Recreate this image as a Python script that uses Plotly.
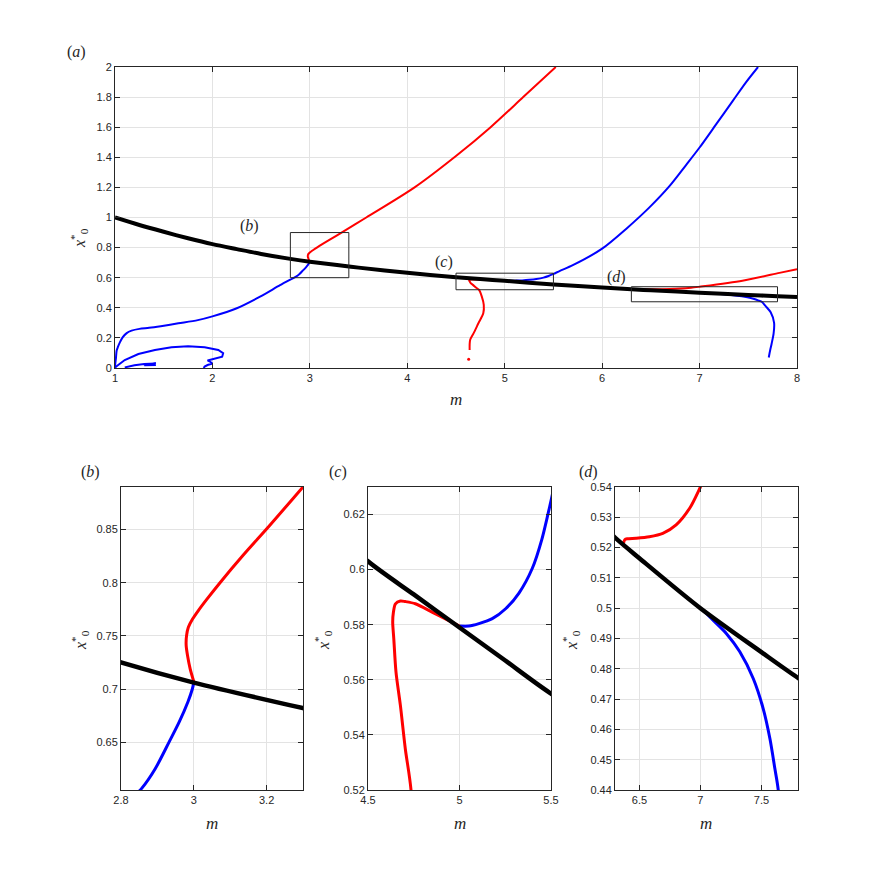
import plotly.graph_objects as go

PAGE_W, PAGE_H = 881, 887
OFF = 8  # default body margin of the html page
W, H = PAGE_W - 2 * OFF, PAGE_H - 2 * OFF

# ---------------- data ----------------
black_m = [1.0, 1.25, 1.5, 1.75, 2.0, 2.25, 2.5, 2.8, 3.0, 3.3, 3.5, 4.0, 4.5, 4.75, 5.0,
           5.25, 5.5, 6.0, 6.3, 6.5, 7.0, 7.5, 7.8, 8.0]
black_x = [1.0, 0.95, 0.905, 0.862, 0.823, 0.79, 0.758, 0.725, 0.706, 0.682, 0.667, 0.633,
           0.603, 0.591, 0.579, 0.567, 0.555, 0.535, 0.5233, 0.5165, 0.500, 0.4855, 0.477, 0.472]

red1_m = [3.0, 2.99, 2.983, 2.979, 2.980, 2.985, 2.997, 3.013, 3.035, 3.072, 3.136, 3.209,
          3.3, 3.579, 4.075, 4.503, 4.855, 5.19, 5.524]
red1_x = [0.707, 0.719, 0.731, 0.741, 0.750, 0.758, 0.766, 0.774, 0.784, 0.800, 0.826, 0.854,
          0.89, 1.0, 1.2, 1.41, 1.6, 1.8, 2.0]

red2_m = [5.0, 4.942, 4.85, 4.759, 4.704, 4.677, 4.65, 4.639, 4.635, 4.641, 4.653, 4.677,
          4.704, 4.735, 4.765, 4.785, 4.78, 4.73, 4.68, 4.645, 4.64]
red2_x = [0.5795, 0.5815, 0.5846, 0.5876, 0.5884, 0.5886, 0.5876, 0.5846, 0.581, 0.5749,
          0.5628, 0.5507, 0.5349, 0.52, 0.474, 0.419, 0.363, 0.297, 0.23, 0.186, 0.12]
red2_dot_m = [4.63]
red2_dot_x = [0.058]

red3_m = [6.37, 6.38, 6.40, 6.473, 6.582, 6.692, 6.801, 6.912, 7.0, 7.44, 7.82, 8.0]
red3_x = [0.5215, 0.5226, 0.5229, 0.5231, 0.5236, 0.5247, 0.5275, 0.533, 0.54, 0.58, 0.632, 0.657]

blue1_m = [1.0, 1.003, 1.01, 1.017, 1.03, 1.05, 1.08, 1.12, 1.17, 1.25, 1.35, 1.47, 1.65,
           1.85, 2.0, 2.25, 2.489, 2.694, 2.8, 2.858, 2.894, 2.932, 2.96, 2.984, 2.996, 3.0]
blue1_x = [0.0, 0.03, 0.068, 0.116, 0.14, 0.17, 0.205, 0.232, 0.248, 0.26, 0.267, 0.278, 0.297,
           0.318, 0.343, 0.397, 0.474, 0.55, 0.587, 0.607, 0.625, 0.65, 0.669, 0.688, 0.70, 0.706]

blue_loop_m = [1.0, 1.01, 1.10, 1.24, 1.41, 1.58, 1.75, 1.92, 2.06, 2.11, 2.10, 2.02, 1.95,
               1.98, 2.0, 1.95, 1.92, 1.91]
blue_loop_x = [0.0, 0.009, 0.053, 0.093, 0.12, 0.138, 0.144, 0.138, 0.12, 0.098, 0.075, 0.062,
               0.05, 0.04, 0.03, 0.02, 0.01, 0.0]

blue_small_m = [1.10, 1.2, 1.3, 1.42, 1.35, 1.30, 1.42]
blue_small_x = [0.004, 0.018, 0.026, 0.03, 0.024, 0.018, 0.02]

blue2_m = [5.0, 5.051, 5.106, 5.179, 5.252, 5.325, 5.398, 5.45, 5.5, 5.567, 5.699, 6.0, 6.249,
           6.488, 6.693, 6.863, 7.0, 7.171, 7.341, 7.478, 7.6]
blue2_x = [0.5795, 0.5795, 0.5804, 0.5822, 0.5858, 0.5915, 0.6005, 0.611, 0.625, 0.6455, 0.683,
           0.793, 0.926, 1.069, 1.21, 1.35, 1.465, 1.62, 1.775, 1.9, 2.0]

blue3_m = [7.02, 7.09, 7.214, 7.323, 7.433, 7.515, 7.57, 7.611, 7.638, 7.68, 7.73, 7.765, 7.76,
           7.74, 7.725, 7.71]
blue3_x = [0.4995, 0.4966, 0.4916, 0.4856, 0.4768, 0.4668, 0.4569, 0.4469, 0.44, 0.41, 0.37,
           0.30, 0.23, 0.163, 0.12, 0.07]

# zoom windows (b), (c), (d)
box_b = [2.8, 3.4, 0.6, 0.9]
box_c = [4.5, 5.5, 0.52, 0.63]
box_d = [6.3, 7.8, 0.44, 0.54]

# ---------------- figure ----------------
fig = go.Figure()

def px2x(p):
    return (p - OFF) / W

def px2y(p):
    return 1 - (p - OFF) / H

panels = [
    ("a", "x", "y", (115, 797), (67, 368), [1, 8], [0, 2], [1, 2, 3, 4, 5, 6, 7, 8],
     [0, 0.2, 0.4, 0.6, 0.8, 1, 1.2, 1.4, 1.6, 1.8, 2], 4, 2),
    ("b", "x2", "y2", (121, 303), (487, 790), [2.8, 3.3], [0.605, 0.89], [2.8, 3, 3.2],
     [0.65, 0.7, 0.75, 0.8, 0.85], 4.5, 3),
    ("c", "x3", "y3", (368, 551), (487, 790), [4.5, 5.5], [0.52, 0.63], [4.5, 5, 5.5],
     [0.52, 0.54, 0.56, 0.58, 0.6, 0.62], 4.5, 3),
    ("d", "x4", "y4", (615, 798), (487, 790), [6.3, 7.8], [0.44, 0.54], [6.5, 7, 7.5],
     [0.44, 0.45, 0.46, 0.47, 0.48, 0.49, 0.5, 0.51, 0.52, 0.53, 0.54], 4.5, 3),
]

RED = "#ff0000"
BLUE = "#0000ff"

axis_common = dict(
    showline=True, linecolor="#262626", linewidth=1, mirror="ticks",
    ticks="inside", ticklen=5, tickcolor="#262626", tickwidth=1,
    showgrid=True, gridcolor="#e3e3e3", gridwidth=1, zeroline=False,
    automargin=False,
    tickfont=dict(family="Liberation Sans, Arial, sans-serif", size=11, color="#262626"),
)

for name, xa, ya, dx, dy, xr, yr, xt, yt, lwb, lwc in panels:
    def add(mx, my, color, width, mode="lines", size=3, smooth=False):
        tr = dict(x=mx, y=my, xaxis=xa, yaxis=ya, showlegend=False, hoverinfo="skip")
        if mode == "lines":
            ln = dict(color=color, width=width)
            if smooth:
                ln.update(shape="spline", smoothing=0.8)
            fig.add_trace(go.Scatter(mode="lines", line=ln, **tr))
        else:
            fig.add_trace(go.Scatter(mode="markers", marker=dict(color=color, size=size), **tr))

    add(blue1_m, blue1_x, BLUE, lwc, smooth=True)
    add(blue_loop_m, blue_loop_x, BLUE, lwc)
    add(blue_small_m, blue_small_x, BLUE, lwc)
    add(blue2_m, blue2_x, BLUE, lwc, smooth=True)
    add(blue3_m, blue3_x, BLUE, lwc, smooth=True)
    add(red1_m, red1_x, RED, lwc, smooth=True)
    add(red2_m, red2_x, RED, lwc, smooth=True)
    add(red2_dot_m, red2_dot_x, RED, 0, mode="markers", size=3)
    add(red3_m, red3_x, RED, lwc, smooth=True)
    add(black_m, black_x, "black", lwb, smooth=True)

    xkey = "xaxis" if xa == "x" else "xaxis" + xa[1:]
    ykey = "yaxis" if ya == "y" else "yaxis" + ya[1:]
    fig.update_layout(**{
        xkey: dict(axis_common, domain=[px2x(dx[0]), px2x(dx[1])], range=xr, anchor=ya,
                   tickvals=xt, ticktext=[("%g" % v) for v in xt]),
        ykey: dict(axis_common, domain=[px2y(dy[1]), px2y(dy[0])], range=yr, anchor=xa,
                   tickvals=yt, ticktext=[("%g" % v) for v in yt]),
    })

# zoom boxes in panel (a)
for bx in (box_b, box_c, box_d):
    fig.add_shape(type="rect", xref="x", yref="y", x0=bx[0], x1=bx[1], y0=bx[2], y1=bx[3],
                  line=dict(color="#262626", width=1), fillcolor="rgba(0,0,0,0)")

SERIF = "Liberation Serif, DejaVu Serif, serif"
ann = []

def text(px, py, s, size=16, angle=0):
    ann.append(dict(x=px2x(px), y=px2y(py), xref="paper", yref="paper", text=s,
                    showarrow=False, textangle=angle, xanchor="center", yanchor="middle",
                    font=dict(family=SERIF, size=size, color="#262626")))

# panel labels
text(76, 52, "(<i>a</i>)", 16)
text(249, 226, "(<i>b</i>)", 16)
text(444, 262, "(<i>c</i>)", 16)
text(616, 277, "(<i>d</i>)", 16)
text(90, 472, "(<i>b</i>)", 16)
text(338, 472, "(<i>c</i>)", 16)
text(588, 472, "(<i>d</i>)", 16)

# axis titles
ytitle = "<i>x</i><sup>*</sup><sub>0</sub>"
text(456, 399, "<i>m</i>", 17)
text(79, 238, ytitle, 16, -90)
for cx, ly in ((212, 823), (460, 823), (706, 823)):
    text(cx, ly, "<i>m</i>", 17)
for lx in (80, 323, 571):
    text(lx, 640, ytitle, 16, -90)

fig.update_layout(
    width=W, height=H, margin=dict(l=0, r=0, t=0, b=0),
    paper_bgcolor="white", plot_bgcolor="white",
    annotations=ann, showlegend=False,
)

fig.write_html("out.html")
